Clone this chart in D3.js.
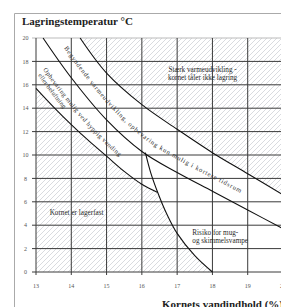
<!DOCTYPE html>
<html><head><meta charset="utf-8">
<script src="https://cdn.jsdelivr.net/npm/d3@7"></script>
<style>body{margin:0;background:#fff}svg{display:block}</style>
</head><body><svg id="c" width="281" height="307"></svg>
<script>
// ---- data (moisture %, temperature °C) ----
const xTicks = [13,14,15,16,17,18,19,20];
const yTicks = [0,2,4,6,8,10,12,14,16,18,20];
const curveA = [[13,15.7],[13.5,14.1],[14,12.6],[14.5,11.2],[15,9.9],[15.5,8.6],[16,7.5],[16.45,6.8]];
const curveL = [[13.2,20],[14,16.6],[15,13.0],[16,10.3],[17,8.5],[18,6.9],[19,5.3],[20,3.7]];
const curveC = [[14.25,20],[15,17.0],[16,14.3],[17,12.2],[18,10.2],[19,8.4],[20,6.6]];
const curveS = [[16.1,10.2],[16.25,8.5],[16.45,6.8],[16.7,5.0],[17,3.3],[17.5,1.4],[18,0]];
const title = "Lagringstemperatur °C";
const xTitle = "Kornets vandindhold (%)";
const txtStrong = ["Stærk varmeudvikling -","kornet tåler ikke lagring"];
const txtStable = "Kornet er lagerfast";
const txtRisk = ["Risiko for mug-","og skimmelsvampe"];
const txtBegin = "Begyndende varmeudvikling, opbevaring kun mulig i kortere tidsrum";
const txtVent = ["Opbevaring mulig ved hyppig vending","eller beluftning"];

const svg = d3.select("#c");
const x = d3.scaleLinear([13,20],[36,283]);
const y = d3.scaleLinear([0,20],[272,38]);
const serif = "'Liberation Serif','DejaVu Serif',serif";

// hatch pattern
const defs = svg.append("defs");
const pat = defs.append("pattern").attr("id","hatch").attr("patternUnits","userSpaceOnUse")
  .attr("width",5).attr("height",5);
pat.append("path").attr("d","M-1,1L1,-1M0,5L5,0M4,6L6,4")
  .attr("stroke","#c4c7ce").attr("stroke-width",0.65);

// frame
svg.append("path").attr("d","M14.5,307V13.5H281").attr("fill","none").attr("stroke","#aaa").attr("stroke-width",1);

const lineGen = d3.line().x(d=>x(d[0])).y(d=>y(d[1])).curve(d3.curveCatmullRom.alpha(0.5));

// hidden helper paths for sampling
const helper = svg.append("g").attr("visibility","hidden");
function sample(data, n=150){
  const p = helper.append("path").attr("d", lineGen(data)).node();
  const L = p.getTotalLength(); const out=[];
  for(let i=0;i<=n;i++){const q=p.getPointAtLength(L*i/n); out.push([q.x,q.y]);}
  return out;
}
const pA = sample(curveA), pS = sample(curveS), pC = sample(curveC), pL = sample(curveL, 300);

// hatched regions
const sEndA = y(curveA[curveA.length-1][1]);
const stable = [[x(13),y(0)],[x(13),y(curveA[0][1])], ...pA, ...pS.filter(p=>p[1]>sEndA), [x(18),y(0)]];
const strong = [...pC, [290, pC[pC.length-1][1]], [290, y(20)]];
svg.append("path").attr("d","M"+stable.join("L")+"Z").attr("fill","url(#hatch)");
svg.append("path").attr("d","M"+strong.join("L")+"Z").attr("fill","url(#hatch)");

// grid
const g = svg.append("g");
g.selectAll(".h").data(yTicks).join("line")
  .attr("x1",x(13)-4).attr("x2",x(20)+5).attr("y1",d=>y(d)).attr("y2",d=>y(d))
  .attr("stroke",d=>d===20?"#bbb":"#3a3a3a").attr("stroke-width",1);
g.selectAll(".v").data(xTicks).join("line")
  .attr("x1",d=>x(d)).attr("x2",d=>x(d)).attr("y1",y(20)).attr("y2",y(0)+3)
  .attr("stroke","#3a3a3a").attr("stroke-width",1);

// tick labels
g.selectAll(".yl").data(yTicks).join("text")
  .attr("x",25.5).attr("y",d=>y(d)).attr("dy","0.35em").attr("text-anchor","middle")
  .attr("font-family",serif).attr("font-size",6).attr("fill","#555").text(d=>d);
g.selectAll(".xl").data(xTicks).join("text")
  .attr("x",d=>x(d)).attr("y",286).attr("dy","0.35em").attr("text-anchor","middle")
  .attr("font-family",serif).attr("font-size",6).attr("fill","#555").text(d=>d);

// curves
[curveA, curveL, curveC, curveS].forEach(c=>{
  svg.append("path").attr("d",lineGen(c)).attr("fill","none").attr("stroke","#111").attr("stroke-width",1.1);
});

// offset path helper along L
function offsetPath(pts, dist){
  const out=[];
  for(let i=0;i<pts.length;i++){
    const a=pts[Math.max(0,i-1)], b=pts[Math.min(pts.length-1,i+1)];
    const dx=b[0]-a[0], dy=b[1]-a[1], len=Math.hypot(dx,dy)||1;
    out.push([pts[i][0]+dy/len*dist, pts[i][1]-dx/len*dist]);
  }
  return "M"+out.map(p=>p[0].toFixed(2)+","+p[1].toFixed(2)).join("L");
}
defs.append("path").attr("id","pBegin").attr("d",offsetPath(pL, 11.5));
defs.append("path").attr("id","pVent1").attr("d",offsetPath(pL, -18));
defs.append("path").attr("id","pVent2").attr("d",offsetPath(pL, -25.5));

function onPath(id, str, offset, fs, len){
  const t = svg.append("text").attr("font-family",serif).attr("font-size",fs).attr("fill","#2a2a2a");
  const tp = t.append("textPath").attr("href","#"+id).attr("startOffset",offset).text(str);
  if(len) tp.attr("textLength",len).attr("lengthAdjust","spacing");
}
onPath("pBegin", txtBegin, 20, 6.5, 232);
onPath("pVent1", txtVent[0], 26, 6.5, 116);
onPath("pVent2", txtVent[1], 28, 6.5, 42);

// region labels
function label(lines, px, py, anchor, fs, lh){
  const t = svg.append("text").attr("font-family",serif).attr("font-size",fs).attr("fill","#2a2a2a")
    .attr("text-anchor",anchor);
  lines.forEach((s,i)=>t.append("tspan").attr("x",x(px)).attr("y",y(py)+i*lh).text(s));
}
label(txtStrong, 17.72, 17.1, "middle", 7.2, 8);
label([txtStable], 14.15, 4.87, "middle", 7.2, 8);
label(txtRisk, 17.43, 3.16, "start", 7.2, 8);

// titles
svg.append("text").attr("x",22).attr("y",24.5).attr("font-family",serif).attr("font-weight","bold")
  .attr("font-size",11).attr("fill","#222").text(title);
svg.append("text").attr("x",162).attr("y",308).attr("font-family",serif).attr("font-weight","bold")
  .attr("font-size",11).attr("fill","#222").text(xTitle);
</script></body></html>
